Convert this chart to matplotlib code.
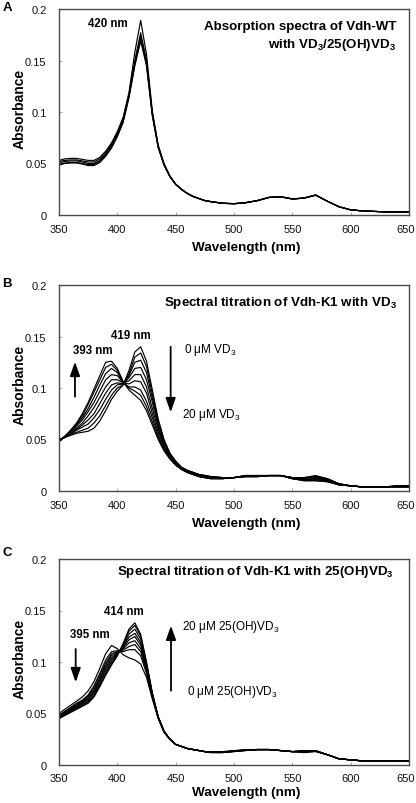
import matplotlib
matplotlib.use("Agg")
import matplotlib.pyplot as plt
import matplotlib.transforms as mtransforms

plt.rcParams['font.family'] = ['Liberation Sans', 'DejaVu Sans']
plt.rcParams['mathtext.fontset'] = 'custom'
plt.rcParams['mathtext.rm'] = 'Liberation Sans'
plt.rcParams['mathtext.it'] = 'Liberation Sans:italic'
plt.rcParams['mathtext.bf'] = 'Liberation Sans:bold'

# wavelength grid (nm)
wavelength = [350, 355, 360, 365, 370, 375, 380, 385, 390, 395, 400, 405, 410, 415, 420,
              425, 430, 435, 440, 445, 450, 455, 460, 465, 470, 475, 480,
              490, 500, 510, 520, 530, 540, 550, 560, 570, 580, 590, 600, 610, 620, 630, 640, 650]

# ---------------- Panel A : Vdh-WT with VD3/25(OH)VD3 ----------------
wt_1 = [.053, .0545, .055, .055, .054, .053, .053, .056, .062, .070, .081, .095, .119, .158, .189,
        .156, .101, .068, .050, .038, .030, .025, .021, .018, .016, .014, .013,
        .0115, .011, .012, .014, .0172, .0178, .0157, .0165, .0195, .0135, .008, .005, .004, .0035, .003, .003, .003]
wt_2 = [.052, .053, .0535, .0535, .0525, .0515, .0515, .0545, .0605, .0685, .0795, .0935, .117, .150, .177,
        .150, .099, .067, .0495, .0378, .030, .025, .021, .018, .016, .014, .013,
        .0115, .011, .012, .014, .0171, .0177, .0156, .0165, .0194, .0134, .008, .005, .004, .0035, .003, .003, .003]
wt_3 = [.0505, .052, .0525, .0525, .0515, .050, .050, .053, .059, .067, .078, .092, .116, .148, .174,
        .148, .098, .0665, .049, .0376, .0298, .0249, .021, .018, .016, .014, .013,
        .0114, .011, .012, .014, .0171, .0177, .0156, .0164, .0193, .0134, .008, .005, .004, .0035, .003, .003, .003]
wt_4 = [.049, .0505, .051, .051, .050, .049, .049, .052, .058, .066, .077, .091, .115, .146, .171,
        .146, .097, .066, .0487, .0374, .0297, .0248, .0209, .018, .016, .014, .013,
        .0114, .0109, .0119, .0139, .017, .0176, .0155, .0164, .0192, .0133, .008, .005, .004, .0035, .003, .003, .003]
wt_5 = [.0485, .050, .0505, .0505, .0495, .048, .048, .051, .057, .065, .076, .090, .114, .145, .169,
        .145, .0965, .0655, .0485, .0373, .0296, .0247, .0208, .0179, .0159, .014, .013,
        .0113, .0109, .0119, .0139, .017, .0176, .0155, .0163, .0192, .0133, .008, .005, .004, .0035, .003, .003, .003]
wt_spectra = [wt_1, wt_2, wt_3, wt_4, wt_5]

# ---------------- Panel B : Vdh-K1 titrated with VD3 (0 -> 20 uM) ----------------
vd3_0 = [.050, .052, .054, .056, .057, .058, .061, .068, .078, .089, .097, .103, .117, .135, .140,
         .126, .098, .070, .050, .037, .029, .023, .020, .018, .016, .015, .014,
         .013, .013, .014, .014, .015, .015, .013, .013, .015, .012, .007, .005, .004, .004, .004, .004, .004]
vd3_1 = [.050, .052, .055, .057, .059, .061, .066, .073, .083, .093, .100, .103, .114, .130, .134,
         .121, .094, .068, .049, .036, .029, .023, .020, .018, .016, .015, .014,
         .013, .013, .014, .014, .015, .015, .013, .013, .014, .012, .007, .005, .004, .004, .004, .004, .004]
vd3_2 = [.0495, .052, .055, .059, .062, .065, .071, .079, .089, .098, .103, .104, .112, .125, .127,
         .115, .090, .065, .047, .036, .028, .023, .020, .018, .016, .015, .014,
         .013, .013, .014, .014, .015, .015, .013, .012, .014, .011, .007, .005, .004, .004, .004, .004, .004]
vd3_3 = [.049, .052, .056, .060, .064, .069, .075, .085, .095, .103, .105, .104, .110, .119, .120,
         .108, .086, .062, .046, .035, .028, .022, .019, .017, .015, .014, .013,
         .013, .013, .014, .014, .015, .015, .013, .012, .013, .011, .007, .005, .004, .004, .004, .004, .004]
vd3_4 = [.049, .053, .057, .061, .066, .073, .081, .091, .101, .108, .108, .105, .107, .113, .113,
         .101, .080, .060, .044, .034, .027, .022, .019, .017, .015, .014, .013,
         .0125, .013, .0145, .0145, .015, .015, .0125, .011, .012, .010, .0065, .005, .004, .004, .004, .0045, .0045]
vd3_5 = [.049, .053, .057, .063, .069, .077, .086, .097, .108, .113, .112, .105, .104, .107, .106,
         .095, .075, .057, .043, .033, .026, .022, .019, .017, .015, .014, .013,
         .012, .013, .015, .015, .015, .015, .012, .011, .012, .010, .006, .005, .004, .004, .004, .005, .005]
vd3_6 = [.048, .053, .058, .064, .071, .080, .091, .103, .114, .119, .115, .105, .101, .101, .098,
         .087, .071, .054, .041, .032, .026, .021, .018, .016, .014, .013, .012,
         .012, .013, .015, .015, .015, .015, .012, .011, .011, .010, .006, .005, .004, .004, .004, .005, .005]
vd3_7 = [.048, .053, .059, .065, .073, .084, .096, .108, .120, .123, .117, .106, .100, .097, .093,
         .082, .067, .052, .040, .032, .025, .021, .018, .016, .014, .013, .012,
         .012, .013, .015, .015, .015, .015, .012, .010, .010, .009, .006, .005, .004, .004, .004, .005, .005]
vd3_8 = [.048, .053, .059, .066, .075, .086, .099, .112, .125, .126, .119, .106, .098, .093, .088,
         .078, .064, .050, .039, .031, .025, .021, .018, .016, .014, .013, .012,
         .012, .013, .015, .015, .015, .015, .012, .010, .010, .009, .006, .005, .004, .004, .004, .005, .005]
vd3_spectra = [vd3_0, vd3_1, vd3_2, vd3_3, vd3_4, vd3_5, vd3_6, vd3_7, vd3_8]

# ---------------- Panel C : Vdh-K1 titrated with 25(OH)VD3 (0 -> 20 uM) ----------------
ohvd3_0 = [.050, .054, .058, .062, .066, .072, .081, .094, .108, .116, .113, .107, .104, .102, .098,
           .085, .064, .045, .032, .025, .020, .018, .016, .015, .014, .013, .013,
           .013, .014, .015, .015, .015, .014, .013, .012, .013, .010, .006, .005, .004, .004, .004, .004, .004]
ohvd3_1 = [.0485, .052, .056, .060, .063, .068, .077, .089, .102, .110, .111, .110, .112, .112, .106,
           .089, .066, .046, .032, .025, .020, .018, .016, .015, .014, .013, .0127,
           .0127, .0137, .0147, .015, .015, .014, .013, .0126, .0133, .010, .006, .005, .004, .004, .004, .004, .004]
ohvd3_2 = [.048, .0515, .055, .059, .062, .067, .075, .087, .099, .108, .110, .1115, .115, .117, .110,
           .091, .0665, .046, .032, .025, .020, .018, .016, .015, .014, .013, .0126,
           .0126, .0136, .0146, .015, .015, .014, .013, .0128, .0134, .010, .006, .005, .004, .004, .004, .004, .004]
ohvd3_3 = [.0474, .0509, .0544, .0578, .0613, .0658, .0732, .0846, .0971, .1061, .1094, .1127, .1186, .1207, .1131,
           .0928, .0671, .046, .0325, .025, .020, .018, .016, .015, .014, .013, .0125,
           .0125, .0135, .0145, .015, .015, .014, .013, .013, .0135, .010, .006, .005, .004, .004, .004, .004, .004]
ohvd3_4 = [.0469, .0502, .0536, .057, .0603, .0644, .0716, .0827, .0948, .104, .1086, .1139, .1216, .1247, .1163,
           .0945, .0678, .0463, .0326, .025, .020, .018, .016, .015, .014, .013, .0124,
           .0124, .0134, .0144, .015, .015, .014, .013, .0133, .0136, .010, .006, .005, .004, .004, .004, .004, .004]
ohvd3_5 = [.0464, .0497, .053, .0562, .0595, .0634, .0702, .081, .0929, .1023, .108, .1149, .1242, .1279, .1189,
           .0958, .0683, .0464, .0327, .025, .020, .018, .016, .015, .014, .013, .0123,
           .0123, .0133, .0143, .015, .015, .014, .013, .0134, .0137, .010, .006, .005, .004, .004, .004, .004, .004]
ohvd3_6 = [.0459, .049, .0522, .0554, .0585, .062, .0686, .0791, .0906, .1002, .1072, .1161, .1272, .1319, .1221,
           .0975, .069, .0467, .0328, .025, .020, .018, .016, .015, .014, .013, .0122,
           .0122, .0132, .0142, .015, .015, .014, .013, .0137, .0138, .010, .006, .005, .004, .004, .004, .004, .004]
ohvd3_7 = [.0454, .0484, .0515, .0546, .0576, .0608, .067, .0773, .0885, .0983, .1065, .1172, .130, .1355, .125,
           .099, .0696, .0469, .0329, .025, .020, .018, .016, .015, .014, .013, .0121,
           .0121, .0131, .0141, .015, .015, .014, .013, .0139, .0139, .010, .006, .005, .004, .004, .004, .004, .004]
ohvd3_8 = [.045, .048, .051, .054, .057, .060, .066, .076, .087, .097, .106, .118, .132, .138, .127,
           .100, .070, .047, .033, .025, .020, .018, .016, .015, .014, .013, .012,
           .012, .013, .014, .015, .015, .014, .013, .014, .014, .010, .006, .005, .004, .004, .004, .004, .004]
ohvd3_spectra = [ohvd3_0, ohvd3_1, ohvd3_2, ohvd3_3, ohvd3_4, ohvd3_5, ohvd3_6, ohvd3_7, ohvd3_8]

x_ticks = [350, 400, 450, 500, 550, 600, 650]
y_ticks = [0, 0.05, 0.1, 0.15, 0.2]
y_tick_labels = ['0', '0.05', '0.1', '0.15', '0.2']

W, H = 416, 804
fig = plt.figure(figsize=(W / 100, H / 100), dpi=100)

AX_H = 206
AX_W = 350

def make_axes(top_px):
    left = 59
    return fig.add_axes([left / W, (H - top_px - AX_H) / H, AX_W / W, AX_H / H])

frame_col = '#4a4a4a'

def style(ax, xlabel_gap_px, xpad):
    ax.set_xlim(350, 650)
    ax.set_ylim(0, 0.2)
    ax.set_xticks(x_ticks)
    ax.set_xticklabels([str(t) for t in x_ticks])
    ax.set_yticks(y_ticks)
    ax.set_yticklabels(y_tick_labels)
    ax.tick_params(direction='in', length=2.5, width=0.6, color='#999999', labelsize=8,
                   labelcolor='#111111')
    ax.tick_params(axis='x', pad=xpad)
    ax.tick_params(axis='y', pad=9)
    # keep the last tick label inside the figure edge
    last = ax.get_xticklabels()[-1]
    last.set_transform(last.get_transform() +
                       mtransforms.ScaledTranslation(-3 / 100, 0, fig.dpi_scale_trans))
    for s in ax.spines.values():
        s.set_color(frame_col)
        s.set_linewidth(1.0)
    ax.set_xlabel('Wavelength (nm)', fontsize=9.7, fontweight='bold')
    ax.xaxis.label.set_verticalalignment('center')
    ax.xaxis.set_label_coords(0.534, -xlabel_gap_px / AX_H)
    ax.set_ylabel('Absorbance', fontsize=10, fontweight='bold')
    ax.yaxis.label.set_verticalalignment('center')
    ax.yaxis.set_label_coords(-39 / AX_W, 0.52)

line_kw = dict(color='black', lw=0.85)
arrow_kw = dict(arrowstyle='-|>,head_width=0.3,head_length=0.85', color='black', lw=1.3,
                shrinkA=0, shrinkB=0)
title_fs = 9.6
peak_fs = 8.3
conc_fs = 8.5

# Panel A
axA = make_axes(10)
for sp in wt_spectra:
    axA.plot(wavelength, sp, **line_kw)
style(axA, 31.5, 6.5)
axA.text(639, 0.1835, 'Absorption spectra of Vdh-WT', ha='right', va='center',
         fontsize=title_fs, fontweight='bold')
axA.text(639, 0.1665, r'with VD$\mathbf{_3}$/25(OH)VD$\mathbf{_3}$', ha='right', va='center',
         fontsize=title_fs, fontweight='bold')
axA.text(392, 0.1864, '420 nm', ha='center', va='center', fontsize=peak_fs, fontweight='bold')

# Panel B
axB = make_axes(286)
for sp in vd3_spectra:
    axB.plot(wavelength, sp, **line_kw)
style(axB, 31.5, 6.5)
axB.text(639.5, 0.1835, r'Spectral titration of Vdh-K1 with VD$\mathbf{_3}$', ha='right', va='center',
         fontsize=title_fs, fontweight='bold')
axB.text(411.7, 0.1518, '419 nm', ha='center', va='center', fontsize=peak_fs, fontweight='bold')
axB.text(379, 0.137, '393 nm', ha='center', va='center', fontsize=peak_fs, fontweight='bold')
axB.annotate('', xy=(363.7, 0.1255), xytext=(363.7, 0.0916), arrowprops=arrow_kw)
axB.annotate('', xy=(445.7, 0.0764), xytext=(445.7, 0.140), arrowprops=arrow_kw)
axB.text(457, 0.138, r'0 μM VD$_3$', ha='left', va='center', fontsize=conc_fs)
axB.text(455, 0.0748, r'20 μM VD$_3$', ha='left', va='center', fontsize=conc_fs)

# Panel C
axC = make_axes(560)
for sp in ohvd3_spectra:
    axC.plot(wavelength, sp, **line_kw)
style(axC, 27, 5.5)
axC.text(637, 0.1886, r'Spectral titration of Vdh-K1 with 25(OH)VD$\mathbf{_3}$', ha='right', va='center',
         fontsize=title_fs, fontweight='bold')
axC.text(405.7, 0.1498, '414 nm', ha='center', va='center', fontsize=peak_fs, fontweight='bold')
axC.text(376.6, 0.127, '395 nm', ha='center', va='center', fontsize=peak_fs, fontweight='bold')
axC.annotate('', xy=(364.3, 0.0803), xytext=(364.3, 0.1126), arrowprops=arrow_kw)
axC.annotate('', xy=(446, 0.1353), xytext=(446, 0.0722), arrowprops=arrow_kw)
axC.text(455, 0.1353, r'20 μM 25(OH)VD$_3$', ha='left', va='center', fontsize=conc_fs)
axC.text(459.4, 0.0722, r'0 μM 25(OH)VD$_3$', ha='left', va='center', fontsize=conc_fs)

# Panel letters
for lab, ypx in [('A', 8), ('B', 284), ('C', 553)]:
    fig.text(7 / W, 1 - ypx / H, lab, ha='center', va='center', fontsize=9.5, fontweight='bold')

fig.savefig('out.png', dpi=100)
